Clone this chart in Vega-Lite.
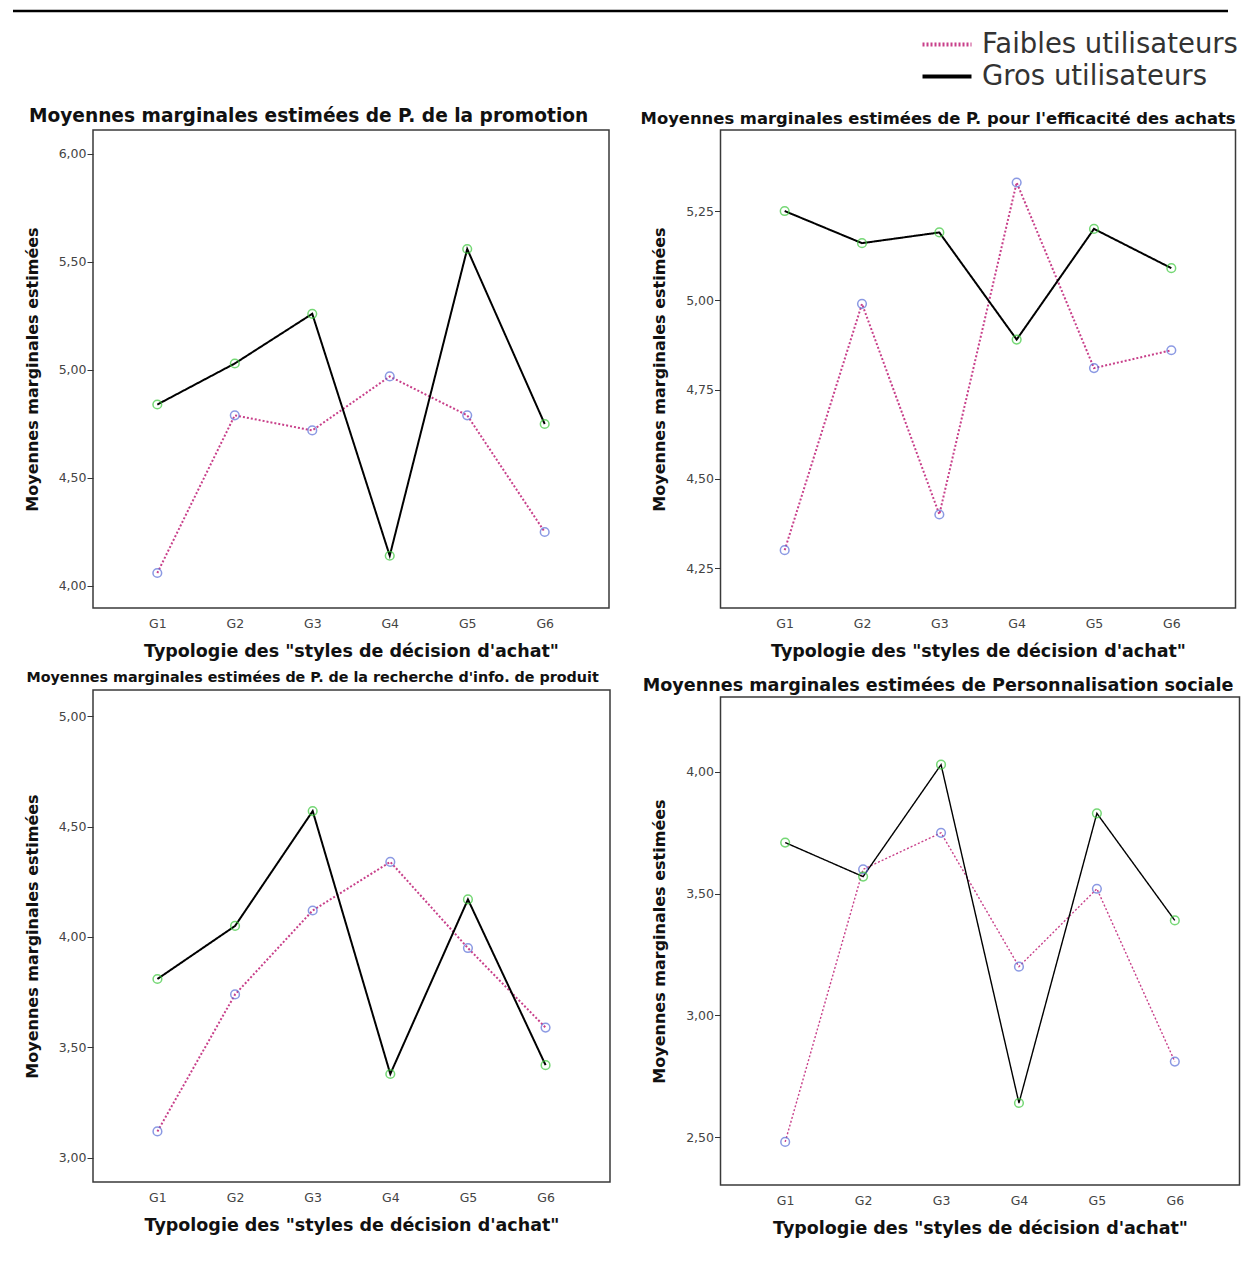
{
  "$schema": "https://vega.github.io/schema/vega-lite/v6.json",
  "padding": {"left": 11, "top": 9, "right": 0, "bottom": 0},
  "background": "white",
  "datasets": {
    "p1": [
      {"g": "G1", "grp": "Faibles utilisateurs", "v": 4.06},
      {"g": "G2", "grp": "Faibles utilisateurs", "v": 4.79},
      {"g": "G3", "grp": "Faibles utilisateurs", "v": 4.72},
      {"g": "G4", "grp": "Faibles utilisateurs", "v": 4.97},
      {"g": "G5", "grp": "Faibles utilisateurs", "v": 4.79},
      {"g": "G6", "grp": "Faibles utilisateurs", "v": 4.25},
      {"g": "G1", "grp": "Gros utilisateurs", "v": 4.84},
      {"g": "G2", "grp": "Gros utilisateurs", "v": 5.03},
      {"g": "G3", "grp": "Gros utilisateurs", "v": 5.26},
      {"g": "G4", "grp": "Gros utilisateurs", "v": 4.14},
      {"g": "G5", "grp": "Gros utilisateurs", "v": 5.56},
      {"g": "G6", "grp": "Gros utilisateurs", "v": 4.75}
    ],
    "p2": [
      {"g": "G1", "grp": "Faibles utilisateurs", "v": 4.30},
      {"g": "G2", "grp": "Faibles utilisateurs", "v": 4.99},
      {"g": "G3", "grp": "Faibles utilisateurs", "v": 4.40},
      {"g": "G4", "grp": "Faibles utilisateurs", "v": 5.33},
      {"g": "G5", "grp": "Faibles utilisateurs", "v": 4.81},
      {"g": "G6", "grp": "Faibles utilisateurs", "v": 4.86},
      {"g": "G1", "grp": "Gros utilisateurs", "v": 5.25},
      {"g": "G2", "grp": "Gros utilisateurs", "v": 5.16},
      {"g": "G3", "grp": "Gros utilisateurs", "v": 5.19},
      {"g": "G4", "grp": "Gros utilisateurs", "v": 4.89},
      {"g": "G5", "grp": "Gros utilisateurs", "v": 5.20},
      {"g": "G6", "grp": "Gros utilisateurs", "v": 5.09}
    ],
    "p3": [
      {"g": "G1", "grp": "Faibles utilisateurs", "v": 3.12},
      {"g": "G2", "grp": "Faibles utilisateurs", "v": 3.74},
      {"g": "G3", "grp": "Faibles utilisateurs", "v": 4.12},
      {"g": "G4", "grp": "Faibles utilisateurs", "v": 4.34},
      {"g": "G5", "grp": "Faibles utilisateurs", "v": 3.95},
      {"g": "G6", "grp": "Faibles utilisateurs", "v": 3.59},
      {"g": "G1", "grp": "Gros utilisateurs", "v": 3.81},
      {"g": "G2", "grp": "Gros utilisateurs", "v": 4.05},
      {"g": "G3", "grp": "Gros utilisateurs", "v": 4.57},
      {"g": "G4", "grp": "Gros utilisateurs", "v": 3.38},
      {"g": "G5", "grp": "Gros utilisateurs", "v": 4.17},
      {"g": "G6", "grp": "Gros utilisateurs", "v": 3.42}
    ],
    "p4": [
      {"g": "G1", "grp": "Faibles utilisateurs", "v": 2.48},
      {"g": "G2", "grp": "Faibles utilisateurs", "v": 3.60},
      {"g": "G3", "grp": "Faibles utilisateurs", "v": 3.75},
      {"g": "G4", "grp": "Faibles utilisateurs", "v": 3.20},
      {"g": "G5", "grp": "Faibles utilisateurs", "v": 3.52},
      {"g": "G6", "grp": "Faibles utilisateurs", "v": 2.81},
      {"g": "G1", "grp": "Gros utilisateurs", "v": 3.71},
      {"g": "G2", "grp": "Gros utilisateurs", "v": 3.57},
      {"g": "G3", "grp": "Gros utilisateurs", "v": 4.03},
      {"g": "G4", "grp": "Gros utilisateurs", "v": 2.64},
      {"g": "G5", "grp": "Gros utilisateurs", "v": 3.83},
      {"g": "G6", "grp": "Gros utilisateurs", "v": 3.39}
    ],
    "top": [{"a": -80, "b": 1135}]
  },
  "config": {
    "view": {"stroke": "#3a3a3a", "strokeWidth": 1.5},
    "axis": {
      "domain": false, "grid": false,
      "labelFont": "DejaVu Sans", "labelFontSize": 12.5, "labelColor": "#444444",
      "titleFont": "DejaVu Sans", "titleFontSize": 16, "titleFontWeight": "bold", "titleColor": "#111111",
      "tickColor": "#333333"
    },
    "axisX": {"ticks": false, "labelPadding": 9, "labelAngle": 0, "titlePadding": 13, "titleFontSize": 17.5},
    "axisY": {"tickSize": 6, "labelPadding": 1, "titlePadding": 18},
    "title": {"font": "DejaVu Sans", "fontWeight": "bold", "color": "#111111", "anchor": "middle", "frame": "bounds"},
    "legend": {
      "orient": "none", "legendX": 839.5, "legendY": 19,
      "labelFont": "DejaVu Sans", "labelFontSize": 27.5, "labelColor": "#333333", "labelLimit": 500,
      "symbolType": "M-2,0L2,0", "symbolSize": 600, "symbolStrokeWidth": 4,
      "labelOffset": 20.5, "rowPadding": 4
    }
  },
  "vconcat": [
    {
      "width": 1135, "height": 1,
      "view": {"stroke": null},
      "data": {"name": "top"},
      "mark": {"type": "rule", "strokeWidth": 2.5, "color": "#000000"},
      "encoding": {
        "x": {"field": "a", "type": "quantitative", "scale": {"domain": [0, 1135], "nice": false, "zero": false}, "axis": null},
        "x2": {"field": "b"},
        "y": {"datum": 1, "type": "quantitative", "scale": {"domain": [0, 1]}, "axis": null}
      }
    },
    {
      "spacing": 28.5,
      "hconcat": [
        {
          "spacing": 9,
          "vconcat": [
            {
              "width": 516, "height": 478,
              "title": {"text": "Moyennes marginales estimées de P. de la promotion", "fontSize": 18.6, "offset": 4.4, "dx": -8},
              "data": {"name": "p1"},
              "encoding": {
                "x": {"field": "g", "type": "ordinal", "scale": {"type": "point", "padding": 0.83}, "axis": {"title": "Typologie des \"styles de décision d'achat\""}},
                "y": {"field": "v", "type": "quantitative", "scale": {"domain": [3.898, 6.111], "nice": false, "zero": false}, "axis": {"title": "Moyennes marginales estimées", "values": [4, 4.5, 5, 5.5, 6], "labelExpr": "replace(format(datum.value, '.2f'), '.', ',')"}}
              },
              "layer": [
                {
                  "mark": {"type": "line", "strokeWidth": 2},
                  "encoding": {
                    "color": {"field": "grp", "type": "nominal", "scale": {"domain": ["Faibles utilisateurs", "Gros utilisateurs"], "range": ["#c8408a", "#000000"]}, "legend": {"title": null}},
                    "strokeDash": {"field": "grp", "type": "nominal", "scale": {"domain": ["Faibles utilisateurs", "Gros utilisateurs"], "range": [[2, 2], [1, 0]]}, "legend": null}
                  }
                },
                {
                  "mark": {"type": "point", "shape": "circle", "filled": false, "size": 75, "strokeWidth": 1.5},
                  "encoding": {
                    "stroke": {"field": "grp", "type": "nominal", "scale": {"domain": ["Faibles utilisateurs", "Gros utilisateurs"], "range": ["#5b6fd8", "#3cc83c"]}, "legend": null}
                  }
                }
              ]
            },
            {
              "width": 517, "height": 492,
              "title": {"text": "Moyennes marginales estimées de P. de la recherche d'info. de produit", "fontSize": 14.3, "offset": 4.7, "dx": -4.5},
              "data": {"name": "p3"},
              "encoding": {
                "x": {"field": "g", "type": "ordinal", "scale": {"type": "point", "padding": 0.83}, "axis": {"title": "Typologie des \"styles de décision d'achat\""}},
                "y": {"field": "v", "type": "quantitative", "scale": {"domain": [2.891, 5.118], "nice": false, "zero": false}, "axis": {"title": "Moyennes marginales estimées", "values": [3, 3.5, 4, 4.5, 5], "labelExpr": "replace(format(datum.value, '.2f'), '.', ',')"}}
              },
              "layer": [
                {
                  "mark": {"type": "line", "strokeWidth": 2},
                  "encoding": {
                    "color": {"field": "grp", "type": "nominal", "scale": {"domain": ["Faibles utilisateurs", "Gros utilisateurs"], "range": ["#c8408a", "#000000"]}, "legend": {"title": null}},
                    "strokeDash": {"field": "grp", "type": "nominal", "scale": {"domain": ["Faibles utilisateurs", "Gros utilisateurs"], "range": [[2, 2], [1, 0]]}, "legend": null}
                  }
                },
                {
                  "mark": {"type": "point", "shape": "circle", "filled": false, "size": 75, "strokeWidth": 1.5},
                  "encoding": {
                    "stroke": {"field": "grp", "type": "nominal", "scale": {"domain": ["Faibles utilisateurs", "Gros utilisateurs"], "range": ["#5b6fd8", "#3cc83c"]}, "legend": null}
                  }
                }
              ]
            }
          ]
        },
        {
          "spacing": 15,
          "vconcat": [
            {
              "width": 515, "height": 478,
              "title": {"text": "Moyennes marginales estimées de P. pour l'efficacité des achats", "fontSize": 16.4, "offset": 2.6, "dx": -5.5},
              "data": {"name": "p2"},
              "encoding": {
                "x": {"field": "g", "type": "ordinal", "scale": {"type": "point", "padding": 0.83}, "axis": {"title": "Typologie des \"styles de décision d'achat\""}},
                "y": {"field": "v", "type": "quantitative", "scale": {"domain": [4.138, 5.477], "nice": false, "zero": false}, "axis": {"title": "Moyennes marginales estimées", "values": [4.25, 4.5, 4.75, 5, 5.25], "labelExpr": "replace(format(datum.value, '.2f'), '.', ',')"}}
              },
              "layer": [
                {
                  "mark": {"type": "line", "strokeWidth": 2},
                  "encoding": {
                    "color": {"field": "grp", "type": "nominal", "scale": {"domain": ["Faibles utilisateurs", "Gros utilisateurs"], "range": ["#c8408a", "#000000"]}, "legend": {"title": null}},
                    "strokeDash": {"field": "grp", "type": "nominal", "scale": {"domain": ["Faibles utilisateurs", "Gros utilisateurs"], "range": [[2, 2], [1, 0]]}, "legend": null}
                  }
                },
                {
                  "mark": {"type": "point", "shape": "circle", "filled": false, "size": 75, "strokeWidth": 1.5},
                  "encoding": {
                    "stroke": {"field": "grp", "type": "nominal", "scale": {"domain": ["Faibles utilisateurs", "Gros utilisateurs"], "range": ["#5b6fd8", "#3cc83c"]}, "legend": null}
                  }
                }
              ]
            },
            {
              "width": 519, "height": 488,
              "title": {"text": "Moyennes marginales estimées de Personnalisation sociale", "fontSize": 17.6, "offset": 2.4, "dx": -7.5},
              "data": {"name": "p4"},
              "encoding": {
                "x": {"field": "g", "type": "ordinal", "scale": {"type": "point", "padding": 0.83}, "axis": {"title": "Typologie des \"styles de décision d'achat\""}},
                "y": {"field": "v", "type": "quantitative", "scale": {"domain": [2.303, 4.308], "nice": false, "zero": false}, "axis": {"title": "Moyennes marginales estimées", "values": [2.5, 3, 3.5, 4], "labelExpr": "replace(format(datum.value, '.2f'), '.', ',')"}}
              },
              "layer": [
                {
                  "mark": {"type": "line", "strokeWidth": 1.4},
                  "encoding": {
                    "color": {"field": "grp", "type": "nominal", "scale": {"domain": ["Faibles utilisateurs", "Gros utilisateurs"], "range": ["#c8408a", "#000000"]}, "legend": {"title": null}},
                    "strokeDash": {"field": "grp", "type": "nominal", "scale": {"domain": ["Faibles utilisateurs", "Gros utilisateurs"], "range": [[2, 2], [1, 0]]}, "legend": null}
                  }
                },
                {
                  "mark": {"type": "point", "shape": "circle", "filled": false, "size": 75, "strokeWidth": 1.5},
                  "encoding": {
                    "stroke": {"field": "grp", "type": "nominal", "scale": {"domain": ["Faibles utilisateurs", "Gros utilisateurs"], "range": ["#5b6fd8", "#3cc83c"]}, "legend": null}
                  }
                }
              ]
            }
          ]
        }
      ]
    }
  ],
  "spacing": 93
}
